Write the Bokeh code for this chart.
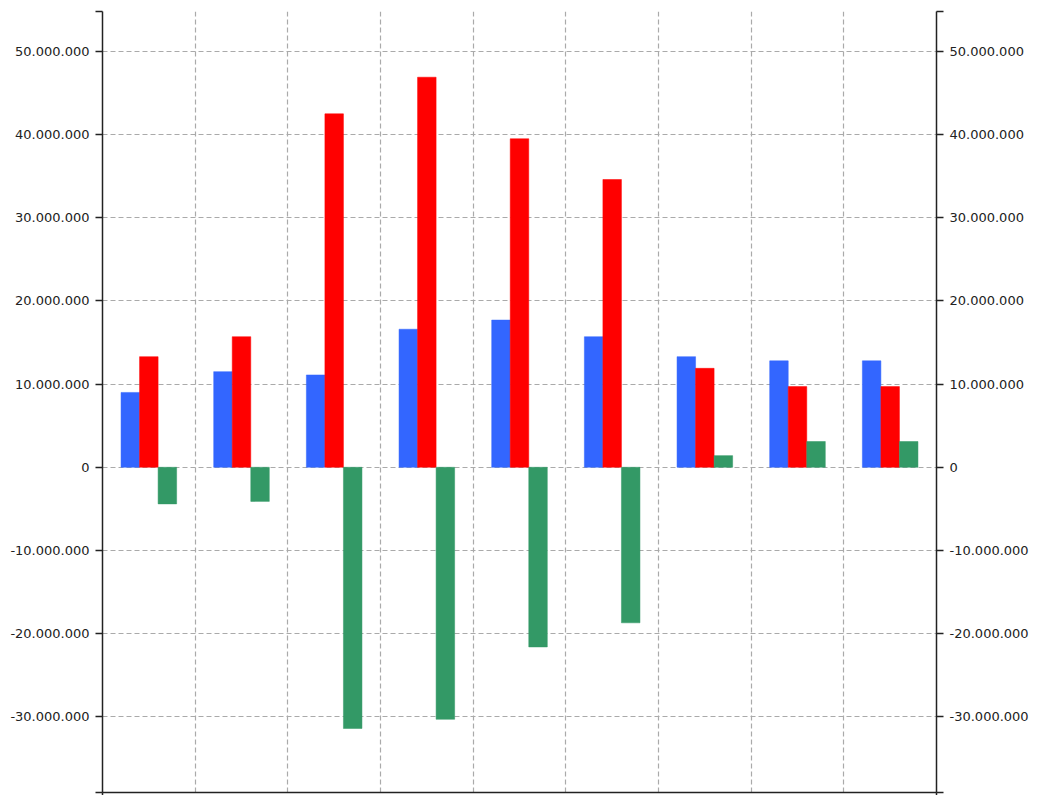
from bokeh.plotting import figure
from bokeh.models import (ColumnDataSource, Range1d, LinearAxis, FixedTicker,
                          CustomJSTickFormatter)
from bokeh.transform import dodge
from bokeh.embed import file_html
from bokeh.resources import INLINE

# ---- data ----
categories = [1, 2, 3, 4, 5, 6, 7, 8, 9]
blue_values = [9.0e6, 11.5e6, 11.1e6, 16.6e6, 17.7e6, 15.7e6, 13.3e6, 12.8e6, 12.8e6]
red_values = [13.3e6, 15.7e6, 42.5e6, 46.9e6, 39.5e6, 34.6e6, 11.9e6, 9.7e6, 9.7e6]
green_values = [-4.4e6, -4.1e6, -31.4e6, -30.3e6, -21.6e6, -18.7e6, 1.4e6, 3.1e6, 3.1e6]
y_ticks = [-30e6, -20e6, -10e6, 0, 10e6, 20e6, 30e6, 40e6, 50e6]
y_min, y_max = -39.1e6, 54.8e6

src = ColumnDataSource(dict(
    x=[c - 0.5 for c in categories],
    blue=blue_values, red=red_values, green=green_values,
))

p = figure(frame_width=834, frame_height=781,
           x_range=Range1d(0, len(categories)), y_range=Range1d(y_min, y_max),
           output_backend="svg", toolbar_location=None,
           x_axis_location=None, y_axis_location=None,
           min_border_left=102, min_border_top=11, min_border_right=0, min_border_bottom=0)
p.outline_line_color = None
p.background_fill_color = "white"

bw = 0.2
p.vbar(x=dodge("x", -0.2, range=p.x_range), top="blue", bottom=0, width=bw,
       source=src, fill_color="#3366FF", line_color="#3366FF", line_width=0.5)
p.vbar(x=dodge("x", 0.0, range=p.x_range), top="red", bottom=0, width=bw,
       source=src, fill_color="#FF0000", line_color="#FF0000", line_width=0.5)
p.vbar(x=dodge("x", 0.2, range=p.x_range), top="green", bottom=0, width=bw,
       source=src, fill_color="#339966", line_color="#339966", line_width=0.5)

fmt = CustomJSTickFormatter(code="""
    if (Math.abs(tick % 10000000) > 1) return '';
    const s = Math.round(tick).toString();
    return s.replace(/\\B(?=(\\d{3})+(?!\\d))/g, '.');
""")

axis_ticks = [y_min] + y_ticks + [y_max]

def style_y(ax):
    ax.ticker = FixedTicker(ticks=axis_ticks)
    ax.formatter = fmt
    ax.axis_line_color = "#222222"
    ax.axis_line_width = 1.5
    ax.major_tick_line_color = "#222222"
    ax.major_tick_line_width = 1.5
    ax.major_tick_out = 7
    ax.major_tick_in = 0
    ax.minor_tick_line_color = None
    ax.major_label_standoff = 6
    ax.major_label_text_font = "DejaVu Sans"
    ax.major_label_text_font_size = "13px"
    ax.major_label_text_color = "#222222"

left = LinearAxis()
style_y(left)
p.add_layout(left, "left")
right = LinearAxis()
style_y(right)
p.add_layout(right, "right")

bottom = LinearAxis()
bottom.ticker = FixedTicker(ticks=[0, len(categories)])
bottom.axis_line_color = "#222222"
bottom.axis_line_width = 1.5
bottom.major_tick_line_color = "#222222"
bottom.major_tick_line_width = 1.5
bottom.major_tick_out = 3
bottom.major_tick_in = 0
bottom.minor_tick_line_color = None
bottom.major_label_text_font_size = "0px"
bottom.major_label_standoff = 0
bottom.major_label_text_color = None
p.add_layout(bottom, "below")

p.xgrid.ticker = FixedTicker(ticks=list(range(1, len(categories))))
p.ygrid.ticker = FixedTicker(ticks=y_ticks)
for g in (p.xgrid, p.ygrid):
    g.grid_line_color = "#aaaaaa"
    g.grid_line_dash = "5 3"
    g.grid_line_width = 1.2

open("out.html", "w").write(file_html(p, INLINE))
